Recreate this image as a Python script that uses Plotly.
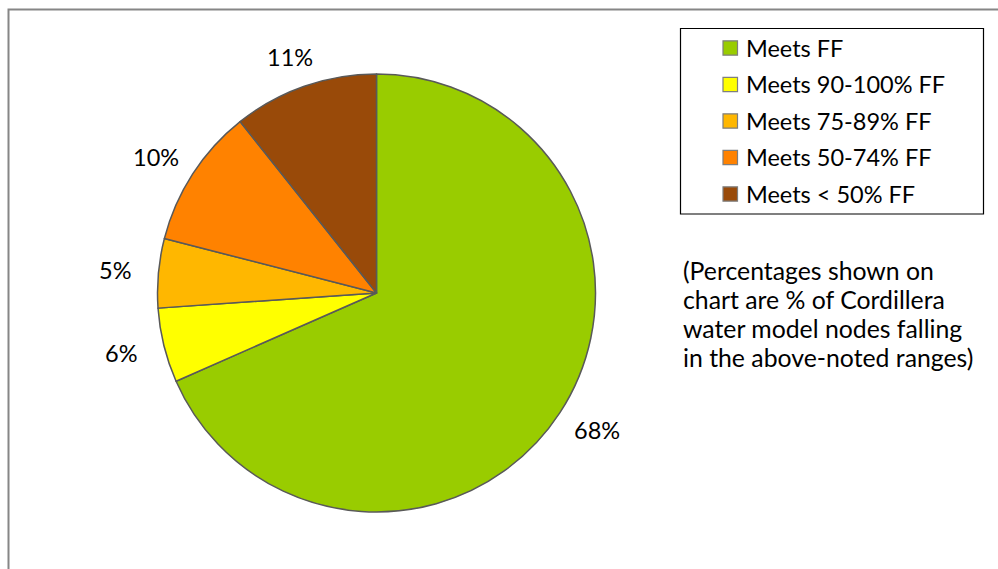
import math
import plotly.graph_objects as go

# ---- data ----
categories = ["Meets FF", "Meets 90-100% FF", "Meets 75-89% FF", "Meets 50-74% FF", "Meets < 50% FF"]
values = [68.4, 5.5, 5.1, 10.3, 10.7]
colors = ["#99CC00", "#FFFF00", "#FFB700", "#FF8200", "#994A09"]
note_lines = ["(Percentages shown on", "chart are % of Cordillera",
              "water model nodes falling", "in the above-noted ranges)"]

W, H = 998, 569
FONT = "Lato, Carlito, Calibri, sans-serif"
FS = 23.5
FS_NOTE = 24.8

def X(px):
    return px / W

def Y(py):
    return 1 - py / H

cx, cy, r = 376.5, 293.0, 219.0

fig = go.Figure()
fig.add_trace(go.Pie(
    labels=categories, values=values, sort=False, direction="clockwise", rotation=0,
    marker=dict(colors=colors, line=dict(color="#595959", width=1.5)),
    textinfo="none", hoverinfo="label+percent", showlegend=False,
    domain=dict(x=[X(cx - r), X(cx + r)], y=[Y(cy + r), Y(cy - r)]),
))

shapes = []
annotations = []

# percentage labels outside the pie
total = sum(values)
cum = 0.0
for v in values:
    mid = (cum + v / 2) / total * 2 * math.pi
    cum += v
    ux, uy = math.sin(mid), -math.cos(mid)
    txt = f"{round(v / total * 100)}%"
    hw, hh = 24, 11
    px = cx + (r + 20) * ux + hw * ux
    py = cy + (r + 20) * uy + hh * uy
    annotations.append(dict(x=X(px), y=Y(py), xref="paper", yref="paper", text=txt,
                            showarrow=False, xanchor="center", yanchor="middle",
                            font=dict(family=FONT, size=FS, color="#000000")))

# legend
shapes.append(dict(type="rect", xref="paper", yref="paper", x0=X(680.5), x1=X(983.5),
                   y0=Y(214), y1=Y(28.5), line=dict(color="#000000", width=1.2),
                   fillcolor="rgba(0,0,0,0)"))
ly0, lstep = 48, 36.5
for i, (lab, col) in enumerate(zip(categories, colors)):
    yc = ly0 + i * lstep
    shapes.append(dict(type="rect", xref="paper", yref="paper", x0=X(723), x1=X(737.5),
                       y0=Y(yc + 7.2), y1=Y(yc - 7.2), fillcolor=col,
                       line=dict(color="#7F7F7F", width=1.2)))
    annotations.append(dict(x=X(744), y=Y(yc), xref="paper", yref="paper", text=lab,
                            showarrow=False, xanchor="left", yanchor="middle",
                            font=dict(family=FONT, size=FS, color="#000000")))

# note (one annotation per line to control line spacing)
ny0, nstep = 270, 29.3
for j, line in enumerate(note_lines):
    annotations.append(dict(x=X(681), y=Y(ny0 + j * nstep), xref="paper", yref="paper",
                            text=line, showarrow=False, align="left",
                            xanchor="left", yanchor="middle",
                            font=dict(family=FONT, size=FS_NOTE, color="#000000")))

# outer chart frame
shapes.append(dict(type="rect", xref="paper", yref="paper", x0=X(8.5), x1=1.05,
                   y0=-0.05, y1=Y(9.5), line=dict(color="#868686", width=2),
                   fillcolor="rgba(0,0,0,0)"))

fig.update_layout(width=W, height=H, margin=dict(l=0, r=0, t=0, b=0),
                  paper_bgcolor="#FFFFFF", plot_bgcolor="#FFFFFF",
                  shapes=shapes, annotations=annotations, showlegend=False)

fig.write_html("out.html")
